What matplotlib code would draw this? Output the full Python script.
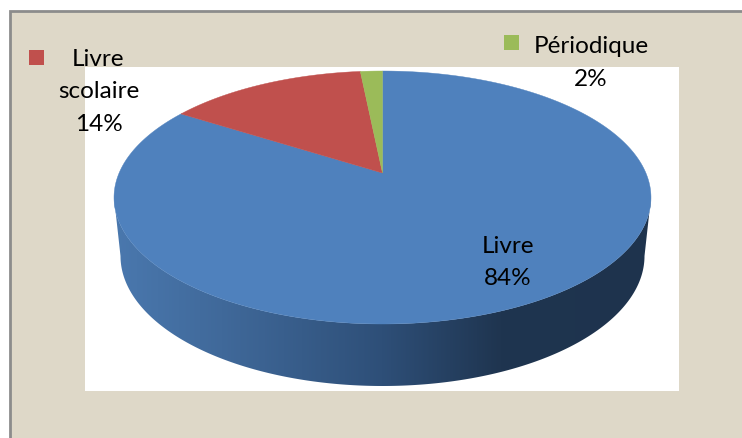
import numpy as np
import matplotlib
matplotlib.use('Agg')
import matplotlib.pyplot as plt
from matplotlib.colors import LinearSegmentedColormap
from matplotlib.patches import Polygon, Rectangle

categories = ['Livre', 'Livre\nscolaire', 'Périodique']
values = [84.0, 14.4, 1.6]
labels = ['84%', '14%', '2%']
colors = ['#4F81BD', '#C0504D', '#9BBB59']

plt.rcParams['font.family'] = ['Lato', 'DejaVu Sans']

# axes in image pixels, y pointing down
fig = plt.figure(figsize=(7.42, 4.38), dpi=100)
ax = fig.add_axes([0, 0, 1, 1])
ax.set_xlim(0, 742)
ax.set_ylim(438, 0)
ax.axis('off')

ax.add_patch(Rectangle((10, 11), 740, 440, fc='#DED8C8', ec='#8C8C8C', lw=2))
ax.add_patch(Rectangle((85, 67), 594, 324, fc='white', ec='none'))

# perspective of the pie: circle centre lands on the apex
cx, cy = 382.5, 173
k = 0.1937
a, b = 263.4, 121.75


def top_face(t):
    u, v = np.sin(t), np.cos(t)
    d = 1 + k * v
    return np.column_stack([cx + a * u / d, cy - b * v / d])


# side wall
s = np.linspace(np.pi * 0.5, np.pi * 1.5, 300)
rim = top_face(np.linspace(0, 2 * np.pi, 720))
left = rim[:, 0].argmin()
right = rim[:, 0].argmax()
front = rim[right:left + 1]
bottom = np.column_stack([cx + 262 * np.sin(s), 256 - 130 * np.cos(s)])
wall = Polygon(np.vstack([front, bottom[::-1]]), closed=True, fc='none', ec='none')
ax.add_patch(wall)
cmap = LinearSegmentedColormap.from_list('wall', [
    (0.0, '#4A78AE'), (0.2, '#40699A'), (0.5, '#2E4F78'), (0.72, '#1F3550'), (1.0, '#1E334D')])
grad = ax.imshow(np.linspace(0, 1, 256).reshape(1, -1), cmap=cmap, aspect='auto',
                 extent=(114, 651, 386, 190), zorder=2)
grad.set_clip_path(wall)
ax.set_xlim(0, 742)
ax.set_ylim(438, 0)

# slices, clockwise from the top
start = 0
for val, col in zip(values, colors):
    end = start + val / sum(values) * 2 * np.pi
    t = np.linspace(start, end, 400)
    pts = np.vstack([[cx, cy], top_face(t)])
    ax.add_patch(Polygon(pts, closed=True, fc=col, ec=col, lw=0.3, zorder=3))
    start = end

fs = 17.5
ax.text(507.5, 262.5, f'{categories[0]}\n{labels[0]}', ha='center', va='center',
        fontsize=fs, linespacing=1.7, zorder=5)
ax.text(98.5, 92, f'{categories[1]}\n{labels[1]}', ha='center', va='center',
        fontsize=fs, linespacing=1.7, zorder=5)
ax.text(591, 63, f'{categories[2]}\n{labels[2]}', ha='center', va='center',
        fontsize=fs, linespacing=1.7, zorder=5)

ax.add_patch(Rectangle((29, 50), 15, 15, fc=colors[1], ec='none', zorder=5))
ax.add_patch(Rectangle((504, 35), 15, 15, fc=colors[2], ec='none', zorder=5))

fig.savefig('out.png', dpi=100)
